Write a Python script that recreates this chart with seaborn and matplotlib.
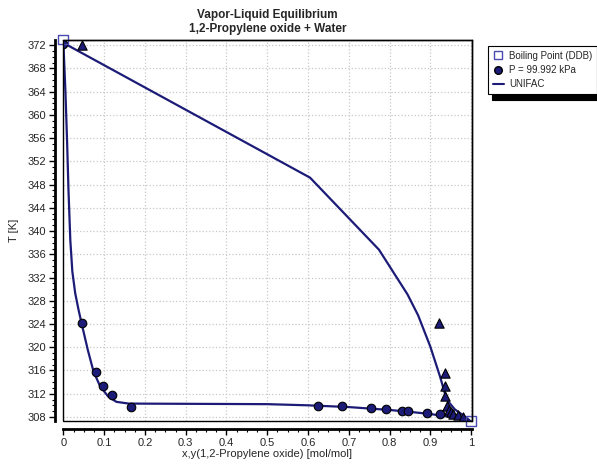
import numpy as np
import pandas as pd
import matplotlib
matplotlib.use("Agg")
import matplotlib.pyplot as plt
from matplotlib.lines import Line2D
from matplotlib.ticker import MultipleLocator
import seaborn as sns

# measured data, P = 99.992 kPa
x_liq = [0, 0.045, 0.080, 0.097, 0.118, 0.166, 0.625, 0.684, 0.754, 0.791,
         0.831, 0.845, 0.893, 0.924]
T_liq = [372.3, 324.2, 315.7, 313.4, 311.7, 309.7, 309.8, 309.8, 309.5, 309.3,
         309.1, 309.1, 308.6, 308.5]
y_vap = [0.045, 0.922, 0.936, 0.936, 0.937, 0.940, 0.945, 0.950, 0.955, 0.968, 0.980]
T_vap = [372.0, 324.1, 315.6, 313.3, 311.6, 309.9, 309.2, 308.8, 308.5, 308.3, 308.0]

# pure component boiling points (DDB)
x_bp = [0.0, 1.0]
T_bp = [373.0, 307.3]

# UNIFAC curves
unifac_x = [0, 0.005, 0.009, 0.0125, 0.017, 0.022, 0.029, 0.037, 0.045, 0.06,
            0.074, 0.09, 0.11, 0.13, 0.16, 0.5, 0.6, 0.7, 0.8, 0.86, 0.9, 0.95, 1.0]
unifac_Tx = [372.4, 364.0, 355.6, 347.0, 338.4, 333.0, 329.3, 326.5, 324.0, 319.5,
             315.8, 313.3, 311.5, 310.6, 310.3, 310.2, 310.0, 309.7, 309.2, 308.8,
             308.5, 308.0, 307.2]
unifac_y = [0, 0.605, 0.774, 0.844, 0.87, 0.9, 0.924, 0.94, 0.96, 0.98, 1.0]
unifac_Ty = [372.4, 349.2, 336.8, 329.1, 325.5, 320.1, 314.9, 311.0, 309.3, 308.3, 307.2]

navy = "#1c1c78"

sns.set_style("white")
plt.rcParams['font.family'] = ['Liberation Sans', 'DejaVu Sans']

fig = plt.figure(figsize=(5.97, 4.67), dpi=100)
ax = fig.add_axes([0.1055, 0.0985, 0.685, 0.8158])

sns.lineplot(x=unifac_x, y=unifac_Tx, sort=False, color=navy, linewidth=1.6, ax=ax)
sns.lineplot(x=unifac_y, y=unifac_Ty, sort=False, color=navy, linewidth=1.6, ax=ax)

sns.scatterplot(x=x_liq, y=T_liq, marker='o', s=38, color=navy, edgecolor='black',
                linewidth=0.8, ax=ax, zorder=4)
sns.scatterplot(x=y_vap, y=T_vap, marker='^', s=45, color=navy, edgecolor='black',
                linewidth=0.8, ax=ax, zorder=4)
sns.scatterplot(x=x_bp, y=T_bp, marker='s', s=50, facecolor='none', edgecolor='#4a4ab0',
                linewidth=1.0, ax=ax, zorder=5, clip_on=False)

ax.set_xlim(-0.001, 1.002)
ax.set_ylim(307.3, 372.9)
xt = np.round(np.arange(0, 1.01, 0.1), 1)
ax.set_xticks(xt)
ax.set_xticklabels(['0' if v == 0 else ('1' if v == 1 else f'{v:g}') for v in xt])
ax.set_yticks(np.arange(308, 373, 4))
ax.xaxis.set_minor_locator(MultipleLocator(0.025))
ax.yaxis.set_minor_locator(MultipleLocator(1))

ax.grid(False, which='minor')
ax.grid(True, which='major', color='#c8c8c8', linestyle=':', linewidth=0.9)
ax.set_axisbelow(True)

for s in ['left', 'bottom']:
    ax.spines[s].set_position(('outward', 6))
    ax.spines[s].set_linewidth(2)
    ax.spines[s].set_color('black')
for s in ['top', 'right']:
    ax.spines[s].set_linewidth(1)
    ax.spines[s].set_color('black')
ax.add_patch(plt.Rectangle((0, 0), 1, 1, transform=ax.transAxes, fill=False,
                           edgecolor='black', linewidth=1, clip_on=False, zorder=6))

ax.tick_params(axis='both', which='major', direction='out', length=4, width=1,
               labelsize=8, color='black', left=True, bottom=True, pad=2)
ax.tick_params(axis='both', which='minor', direction='out', length=2, width=0.8,
               color='black', left=True, bottom=True)

ax.set_xlabel("x,y(1,2-Propylene oxide) [mol/mol]", fontsize=8, labelpad=1)
ax.set_ylabel("T [K]", fontsize=8, labelpad=6)
ax.set_title("Vapor-Liquid Equilibrium\n1,2-Propylene oxide + Water",
             fontsize=8.5, fontweight='bold', pad=6)

handles = [
    Line2D([], [], marker='s', linestyle='none', markerfacecolor='none',
           markeredgecolor='#4a4ab0', markersize=6),
    Line2D([], [], marker='o', linestyle='none', color=navy,
           markeredgecolor='black', markersize=5.5),
    Line2D([], [], color=navy, linewidth=1.5),
]
leg = fig.legend(handles, ["Boiling Point (DDB)", "P = 99.992 kPa", "UNIFAC"],
                 loc='upper left', bbox_to_anchor=(0.817, 0.902), fontsize=7,
                 frameon=True, shadow={'color': 'black', 'alpha': 1, 'ox': 3, 'oy': -4},
                 fancybox=False, borderpad=0.5, borderaxespad=0,
                 handlelength=1.2, handletextpad=0.5, labelspacing=0.45)
leg.get_frame().set_edgecolor('black')
leg.get_frame().set_linewidth(0.8)

fig.savefig("out.png", dpi=100)
